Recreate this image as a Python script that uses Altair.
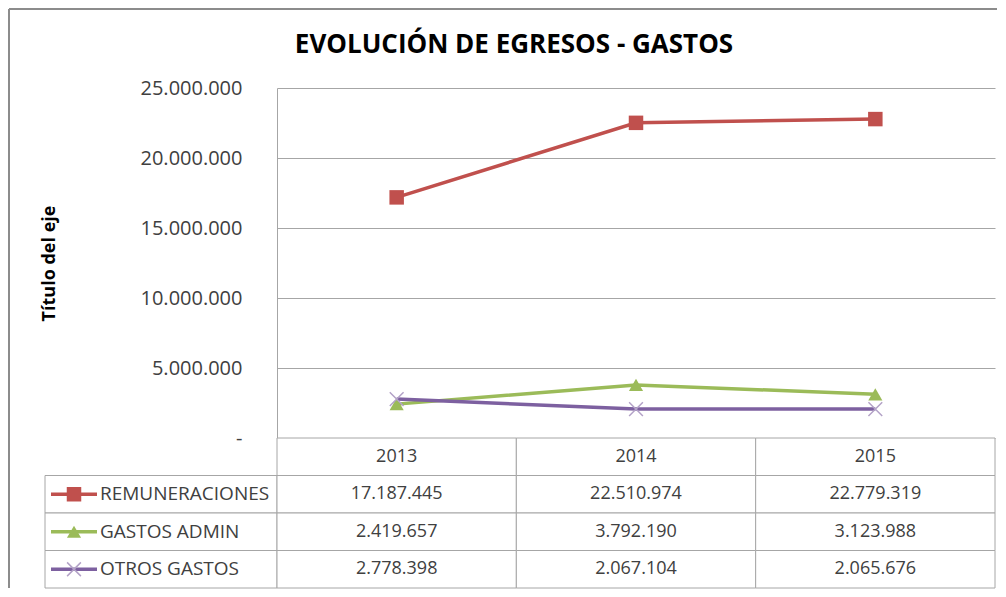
import altair as alt
import pandas as pd

# ---------------- data ----------------
years = ["2013", "2014", "2015"]
series = ["REMUNERACIONES", "GASTOS ADMIN", "OTROS GASTOS"]
remuneraciones = [17187445, 22510974, 22779319]
gastos_admin = [2419657, 3792190, 3123988]
otros_gastos = [2778398, 2067104, 2065676]
y_ticks = [0, 5000000, 10000000, 15000000, 20000000, 25000000]
title_text = "EVOLUCIÓN DE EGRESOS - GASTOS"
y_title = "Título del eje"

# ---------------- styles ----------------
FONT = "Open Sans"
TEXT = "#404040"
GRID = "#a6a6a6"
FRAME = "#8c8c8c"
line_colors = ["#C0504D", "#9BBB59", "#7D60A0"]
X_PATH = "M-1,-1L1,1M-1,1L1,-1"

values_by_series = [remuneraciones, gastos_admin, otros_gastos]
df = pd.DataFrame({
    "year": [y for _ in series for y in years],
    "series": [s for s in series for _ in years],
    "value": [v for vals in values_by_series for v in vals],
})


def fmt(v):
    return f"{v:,}".replace(",", ".")


rows = ["header"] + series
table_df = pd.DataFrame({
    "row": ["header"] * len(years) + list(df["series"]),
    "year": years + list(df["year"]),
    "text": years + [fmt(v) for v in df["value"]],
})
label_df = pd.DataFrame({"row": series})

color_enc = alt.Color("series:N", scale=alt.Scale(domain=series, range=line_colors), legend=None)


def marker_layers(data, field, x_enc, y_enc):
    out = []
    styles = [
        dict(shape="square", filled=True, color=line_colors[0], size=210),
        dict(shape="triangle-up", filled=True, color=line_colors[1], size=200),
        dict(shape=X_PATH, filled=False, stroke="#B3A2C7", strokeWidth=1.5, size=190),
    ]
    for s, st in zip(series, styles):
        out.append(
            alt.Chart(data).transform_filter(alt.datum[field] == s)
            .mark_point(opacity=1, **st)
            .encode(x=x_enc, y=y_enc)
        )
    return out


# ---------------- line chart ----------------
x_enc = alt.X("year:N", scale=alt.Scale(type="point", domain=years, padding=0.5), axis=None)
y_enc = alt.Y(
    "value:Q",
    scale=alt.Scale(domain=[0, 25000000], nice=False),
    axis=alt.Axis(
        values=y_ticks,
        labelExpr="datum.value == 0 ? '-\u00a0\u00a0' : replace(format(datum.value, ',d'), regexp(',', 'g'), '.')",
        grid=True, gridColor=GRID, gridWidth=1,
        domain=True, domainColor=GRID, ticks=False,
        labelFont=FONT, labelFontSize=20, labelColor=TEXT, labelPadding=35,
        title=y_title, titleFont=FONT, titleFontSize=18, titleFontWeight="bold",
        titleColor="black", titlePadding=82,
    ),
)
lines = alt.Chart(df).mark_line(strokeWidth=3.5).encode(x=x_enc, y=y_enc, color=color_enc)
line_chart = alt.layer(lines, *marker_layers(df, "series", x_enc, y_enc)).properties(
    width=718, height=350,
    title=alt.Title(title_text, font=FONT, fontSize=26, fontWeight="bold", color="black",
                    anchor="middle", offset=20, dx=-122),
)

# empty top-left cell; carries the outer chart-area frame (top and left edges)
frame_left = alt.Chart(label_df).mark_rule(color=FRAME, strokeWidth=2).encode(
    x=alt.value(-36), y=alt.value(-79), y2=alt.value(500))
frame_top = alt.Chart(label_df).mark_rule(color=FRAME, strokeWidth=2).encode(
    x=alt.value(-36), x2=alt.value(952), y=alt.value(-79))
blank = alt.layer(frame_left, frame_top).properties(width=232, height=350)

# ---------------- data table ----------------
row_y = alt.Y("row:N", scale=alt.Scale(domain=rows, paddingInner=0, paddingOuter=0), axis=None)
tbl = alt.Chart(table_df).encode(
    x=alt.X("year:N", scale=alt.Scale(domain=years, paddingInner=0, paddingOuter=0), axis=None),
    y=row_y,
)
cells = tbl.mark_rect(fill="white", stroke=GRID, strokeWidth=1)
cell_text = tbl.mark_text(font=FONT, fontSize=18, color=TEXT).encode(text="text:N")
table = alt.layer(cells, cell_text).properties(width=718, height=150)

lab_cells = alt.Chart(label_df).mark_rect(fill="white", stroke=GRID, strokeWidth=1).encode(y=row_y)
lab_text = alt.Chart(label_df).mark_text(align="left", font=FONT, fontSize=19, color=TEXT).encode(
    x=alt.value(55), y=row_y, text="row:N")
glyph_lines = alt.Chart(label_df).mark_rule(strokeWidth=3.5).encode(
    x=alt.value(6), x2=alt.value(52), y=row_y,
    color=alt.Color("row:N", scale=alt.Scale(domain=series, range=line_colors), legend=None))
labels = alt.layer(
    lab_cells, glyph_lines, *marker_layers(label_df, "row", alt.value(29), row_y), lab_text
).properties(width=232, height=150)

chart = alt.concat(
    blank, line_chart, labels, table,
    columns=2, spacing=0, bounds="flush",
).configure_view(stroke=None).properties(
    padding={"left": 0, "top": 0, "right": 0, "bottom": 0}, background="white"
)

chart.save("out.html", embed_options={"renderer": "svg", "actions": False})
